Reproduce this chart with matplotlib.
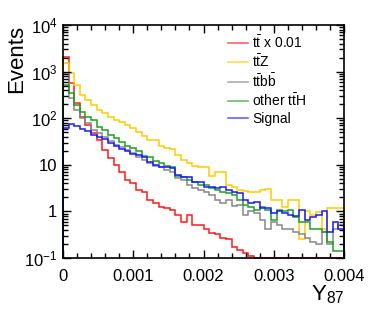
import numpy as np
import matplotlib
matplotlib.use('Agg')
import matplotlib.pyplot as plt
from matplotlib.ticker import LogLocator, FixedLocator, MultipleLocator, NullFormatter

plt.rcParams['font.family'] = ['Liberation Sans', 'DejaVu Sans']
plt.rcParams['mathtext.fontset'] = 'custom'
plt.rcParams['mathtext.rm'] = 'Liberation Sans'
plt.rcParams['mathtext.it'] = 'Liberation Sans'

# 50 bins from 0 to 0.004
edges = np.linspace(0, 0.004, 51)

tt = [2060, 570, 214, 107, 72, 49, 34.5, 21, 14.2, 10,
      7.1, 4.8, 4.1, 2.9, 2.65, 1.8, 1.54, 1.27, 1.21, 1.09,
      0.85, 0.60, 0.85, 0.52, 0.52, 0.41, 0.35, 0.32, 0.27, 0.25,
      0.176, 0.152, 0.131, 0.113, 0.1, 0.1, 0.1, 0.1, 0.1, 0.1,
      0.1, 0.1, 0.1, 0.1, 0.1, 0.1, 0.1, 0.1, 0.1, 0.1]
ttz = [1535, 940, 520, 317, 248, 194, 151, 131, 107, 92,
       84, 72, 62, 51, 42, 34.5, 34.5, 25.6, 23.2, 22.1,
       16.5, 12.9, 11.1, 9.6, 9.1, 9.1, 5.8, 7.1, 7.1, 3.6,
       3.4, 2.9, 2.8, 2.65, 2.65, 2.9, 3.0, 1.8, 1.75, 1.25,
       1.75, 1.75, 0.25, 1.0, 0.85, 0.95, 0.41, 1.2, 1.2, 1.2]
ttbb = [900, 274, 151, 102, 80, 56, 49, 40, 33, 27,
        24.4, 21, 18.2, 14.9, 12.9, 11.1, 9.6, 9.1, 7.9, 7.1,
        5.3, 4.8, 3.75, 3.2, 2.9, 2.65, 2.3, 1.8, 1.54, 1.8,
        1.33, 1.4, 0.85, 1.0, 0.94, 0.67, 0.41, 0.6, 0.52, 0.41,
        0.41, 0.37, 0.32, 0.27, 0.225, 0.195, 0.37, 0.195, 0.41, 0.52]
tth = [520, 350, 194, 137, 107, 92, 65, 56, 44, 38,
       31, 25.6, 23.2, 20, 15.7, 14.9, 12.2, 11.1, 9.6, 9.1,
       5.8, 5.6, 4.8, 4.3, 3.75, 3.75, 3.2, 2.9, 2.65, 2.5,
       2.2, 1.8, 1.4, 1.27, 1.09, 1.27, 1.09, 0.67, 1.09, 1.0,
       1.09, 0.74, 0.6, 0.6, 0.41, 0.41, 0.37, 0.225, 0.138, 0.138]
signal = [62, 76, 69, 59, 54, 44, 40, 36, 30, 25.6,
          22, 20, 17.3, 16.5, 14.9, 11.7, 10, 9.1, 9.1, 8.7,
          6.1, 5.6, 5.6, 4.3, 4.3, 3.4, 3.4, 3.2, 3.4, 2.9,
          2.65, 2.5, 1.8, 1.54, 1.6, 1.2, 1.2, 0.94, 1.0, 0.94,
          0.85, 0.81, 1.09, 0.67, 0.77, 0.85, 1.0, 0.37, 0.6, 0.41]

labels = [r'$\mathrm{t\bar{t}}$ x 0.01', r'$\mathrm{t\bar{t}Z}$',
          r'$\mathrm{t\bar{t}b\bar{b}}$', r'other $\mathrm{t\bar{t}H}$', 'Signal']
colors = ['#ff1a1a', '#ffcc00', '#888888', '#1f9f1f', '#1a1aff']

fig = plt.figure(figsize=(3.74, 3.16), dpi=100)
ax = fig.add_axes([63/374, 1-258/316, 281/374, 233/316])

for vals, lab, col in zip([tt, ttz, ttbb, tth, signal], labels, colors):
    ax.stairs(vals, edges, baseline=0.1, color=col, lw=1.1, label=lab, clip_on=False)

ax.set_yscale('log')
ax.set_xlim(0, 0.004)
ax.set_ylim(0.1, 1e4)

ax.xaxis.set_major_locator(FixedLocator([0, 0.001, 0.002, 0.003, 0.004]))
ax.xaxis.set_minor_locator(MultipleLocator(0.0002))
ax.set_xticklabels(['0', '0.001', '0.002', '0.003', '0.004'])
ax.yaxis.set_major_locator(FixedLocator([0.1, 1, 10, 100, 1e3, 1e4]))
ax.set_yticklabels([r'$10^{-1}$', '1', '10', r'$10^{2}$', r'$10^{3}$', r'$10^{4}$'])
ax.yaxis.set_minor_locator(LogLocator(base=10, subs=np.arange(2, 10)))
ax.yaxis.set_minor_formatter(NullFormatter())

ax.tick_params(which='both', direction='in', top=True, right=True, labelsize=12, width=1)
ax.tick_params(which='major', length=6)
ax.tick_params(which='minor', length=3.5)
ax.tick_params(axis='x', which='major', pad=8)
ax.tick_params(axis='y', which='major', pad=4)
for s in ax.spines.values():
    s.set_linewidth(1.2)

fig.text(17/374, 1-25/316, 'Events', rotation=90, ha='center', va='top', fontsize=16)
fig.text(344/374, 1-300/316, r'$\mathrm{Y}_{87}$', ha='right', va='baseline', fontsize=16)

leg = ax.legend(loc='upper left', bbox_to_anchor=(228/374, 1-34/316), bbox_transform=fig.transFigure,
                frameon=False, fontsize=10, handlelength=1.45, handletextpad=0.3,
                labelspacing=0.18, borderpad=0, borderaxespad=0)
for h in leg.get_lines():
    h.set_alpha(0.75)

fig.savefig('out.png', dpi=100)
